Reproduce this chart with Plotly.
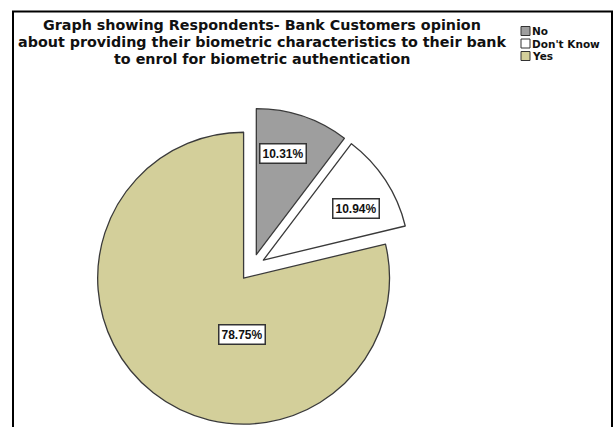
import plotly.graph_objects as go

# Survey answers and their shares (%)
categories = ["No", "Don't Know", "Yes"]
percentages = [10.31, 10.94, 78.75]
slice_colors = ["#9e9e9e", "#ffffff", "#d3cf9a"]

title_lines = [
    "Graph showing Respondents- Bank Customers opinion",
    "about providing their biometric characteristics to their bank",
    "to enrol for biometric authentication",
]

W, H = 615, 427
WIDE = "DejaVu Sans"
NARROW = "Liberation Sans"

# pie geometry (pixels): centre of the unexploded pie and the box that holds it
cx_px, cy_px, half_px = 252, 267.5, 159.5
pull = 0.093


def px(x):
    return x / W


def py(y):
    return 1 - y / H


fig = go.Figure()
fig.add_trace(go.Pie(
    labels=categories,
    values=percentages,
    sort=False,
    direction="clockwise",
    rotation=0,
    pull=[pull] * len(categories),
    marker=dict(colors=slice_colors, line=dict(color="#3a3a3a", width=1.3)),
    textinfo="none",
    hoverinfo="label+percent",
    showlegend=False,
    domain=dict(x=[px(cx_px - half_px), px(cx_px + half_px)],
                y=[py(cy_px + half_px), py(cy_px - half_px)]),
))

# boxed percentage labels
label_pos = [(282.5, 153.5), (356, 208), (242, 334)]
for v, (lx, ly) in zip(percentages, label_pos):
    fig.add_annotation(
        x=px(lx), y=py(ly), xref="paper", yref="paper",
        text=f"{v:.2f}%", showarrow=False,
        font=dict(family=NARROW, size=12, color="#111", weight="bold"),
        bgcolor="white", bordercolor="#333", borderwidth=1.5, borderpad=2,
        xanchor="center", yanchor="middle",
    )

# legend: swatch + label per category
leg_x, leg_y0, leg_dy, sw = 521, 31, 12.5, 9
for i, (cat, col) in enumerate(zip(categories, slice_colors)):
    yc = leg_y0 + i * leg_dy
    fig.add_shape(type="rect", xref="paper", yref="paper",
                  x0=px(leg_x), x1=px(leg_x + sw),
                  y0=py(yc + sw / 2), y1=py(yc - sw / 2),
                  fillcolor=col, line=dict(color="#333", width=1))
    fig.add_annotation(x=px(leg_x + sw + 1), y=py(yc), xref="paper", yref="paper",
                       text=cat, showarrow=False, xanchor="left", yanchor="middle",
                       borderpad=0,
                       font=dict(family=WIDE, size=10.5, color="#111", weight="bold"))

# chart title, one line per annotation for tight line spacing
for i, line in enumerate(title_lines):
    fig.add_annotation(x=px(261.5), y=py(25 + i * 17), xref="paper", yref="paper",
                       text=line, showarrow=False, xanchor="center", yanchor="middle",
                       borderpad=0,
                       font=dict(family=WIDE, size=14.3, color="#111", weight="bold"))

# outer frame (runs past the bottom edge)
fig.add_shape(type="rect", xref="paper", yref="paper",
              x0=px(13), x1=px(612), y0=-0.05, y1=py(11.5),
              line=dict(color="black", width=2), fillcolor="rgba(0,0,0,0)")

fig.update_layout(
    width=W, height=H,
    margin=dict(l=0, r=0, t=0, b=0),
    paper_bgcolor="white",
    plot_bgcolor="white",
)

fig.write_html("out.html")
